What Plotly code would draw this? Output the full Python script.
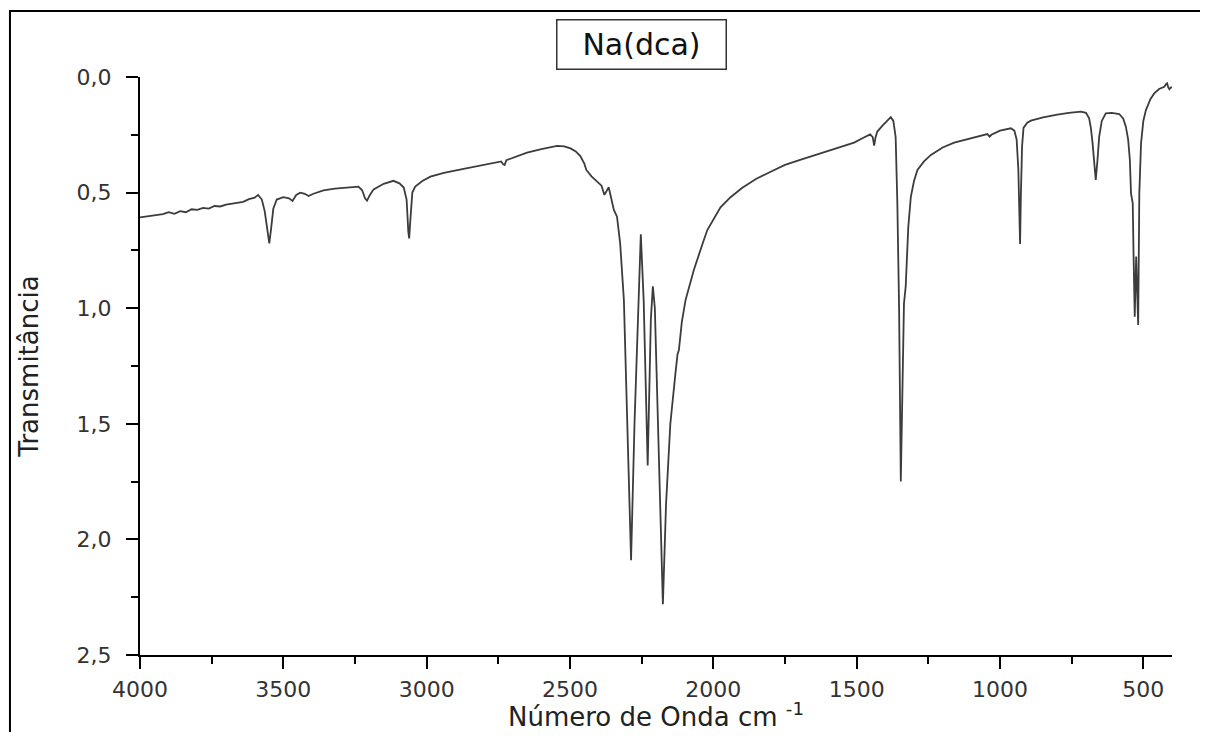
import plotly.graph_objects as go

# Wavenumber (cm^-1) and transmittance
wavenumber = [
    4000, 3960, 3920, 3900, 3880, 3860, 3840, 3820, 3800, 3780, 3760, 3740, 3720, 3700,
    3680, 3660, 3640, 3620, 3600, 3588, 3575, 3565, 3555, 3549, 3543, 3535, 3523, 3500,
    3480, 3468, 3455, 3441, 3425, 3412, 3395, 3360, 3320, 3280, 3238, 3225, 3215, 3208,
    3198, 3185, 3150, 3116, 3095, 3080, 3070, 3064, 3061, 3057, 3050, 3040, 3015, 2987,
    2940, 2880, 2820, 2766, 2740, 2733, 2728, 2722, 2714, 2690, 2650, 2600, 2545, 2520,
    2498, 2480, 2464, 2450, 2443, 2425, 2405, 2390, 2380, 2372, 2365, 2357, 2347, 2336,
    2325, 2312, 2300, 2287, 2275, 2260, 2253, 2243, 2229, 2218, 2211, 2204, 2190, 2176,
    2165, 2150, 2132, 2125, 2120, 2110, 2097, 2068, 2040, 2021, 1975, 1940, 1900, 1850,
    1800, 1750, 1700, 1650, 1626, 1580, 1540, 1509, 1480, 1453, 1444, 1439, 1434, 1428,
    1410, 1395, 1381, 1372, 1364, 1358, 1352, 1346, 1340, 1335, 1329, 1320, 1311, 1300,
    1288, 1265, 1241, 1200, 1160, 1102, 1060, 1044, 1036, 1030, 1000, 962, 950, 942,
    936, 933, 930, 927, 923, 918, 905, 892, 850, 800, 760, 718, 700, 689, 683, 677,
    671, 666, 660, 654, 645, 631, 610, 584, 570, 561, 553, 547, 543, 537, 534, 530,
    525, 521, 518, 514, 508, 500, 491, 475, 462, 445, 427, 420, 417, 413, 409, 404, 400,
]
transmittance = [
    0.607, 0.600, 0.593, 0.585, 0.592, 0.580, 0.585, 0.572, 0.575, 0.566, 0.569, 0.558, 0.560, 0.552,
    0.548, 0.541, 0.540, 0.528, 0.522, 0.510, 0.530, 0.580, 0.680, 0.720, 0.660, 0.570, 0.530, 0.520,
    0.525, 0.536, 0.510, 0.500, 0.505, 0.515, 0.505, 0.490, 0.483, 0.478, 0.474, 0.490, 0.525, 0.535,
    0.510, 0.486, 0.462, 0.449, 0.460, 0.478, 0.530, 0.670, 0.698, 0.620, 0.500, 0.474, 0.450, 0.431,
    0.415, 0.400, 0.385, 0.369, 0.365, 0.378, 0.381, 0.360, 0.356, 0.345, 0.327, 0.312, 0.298, 0.300,
    0.309, 0.322, 0.342, 0.375, 0.402, 0.430, 0.453, 0.470, 0.510, 0.490, 0.477, 0.520, 0.575, 0.604,
    0.720, 0.965, 1.500, 2.090, 1.500, 0.965, 0.680, 0.965, 1.680, 1.050, 0.905, 1.000, 1.700, 2.280,
    1.850, 1.500, 1.280, 1.200, 1.180, 1.060, 0.965, 0.835, 0.730, 0.662, 0.564, 0.520, 0.480, 0.440,
    0.410, 0.380, 0.360, 0.340, 0.330, 0.315, 0.297, 0.284, 0.265, 0.248, 0.260, 0.297, 0.260, 0.236,
    0.210, 0.190, 0.174, 0.190, 0.260, 0.550, 1.000, 1.750, 1.250, 0.980, 0.907, 0.650, 0.518, 0.450,
    0.402, 0.365, 0.337, 0.305, 0.284, 0.265, 0.252, 0.247, 0.258, 0.250, 0.232, 0.222, 0.232, 0.270,
    0.400, 0.550, 0.722, 0.500, 0.300, 0.220, 0.198, 0.189, 0.175, 0.163, 0.155, 0.150, 0.155, 0.179, 0.220, 0.287,
    0.380, 0.445, 0.360, 0.258, 0.190, 0.157, 0.155, 0.160, 0.180, 0.215, 0.270, 0.359, 0.503, 0.546, 0.777, 1.037,
    0.777, 0.900, 1.073, 0.503, 0.287, 0.190, 0.143, 0.095, 0.071, 0.052, 0.042, 0.030, 0.027, 0.045, 0.053, 0.045, 0.045,
]

x_tickvals = [4000, 3500, 3000, 2500, 2000, 1500, 1000, 500]
x_ticktext = ["4000", "3500", "3000", "2500", "2000", "1500", "1000", "500"]
y_tickvals = [0.0, 0.5, 1.0, 1.5, 2.0, 2.5]
y_ticktext = ["0,0", "0,5", "1,0", "1,5", "2,0", "2,5"]

title_text = "Na(dca)"
x_title = "Número de Onda cm <sup>-1</sup>"
y_title = "Transmitância"

FONT = "DejaVu Sans"

fig = go.Figure()
fig.add_trace(go.Scatter(
    x=wavenumber, y=transmittance, mode="lines",
    line=dict(color="#3c3c3c", width=1.8), showlegend=False,
))

fig.update_layout(
    width=1192, height=724, autosize=False,
    margin=dict(l=132, r=28, t=69, b=77, autoexpand=False),
    paper_bgcolor="white", plot_bgcolor="white",
    font=dict(family=FONT, color="#222222"),
    xaxis=dict(
        range=[4000, 400], showgrid=False, zeroline=False,
        showline=True, linecolor="black", linewidth=2,
        ticks="outside", ticklen=12, tickwidth=2, tickcolor="black",
        tickvals=x_tickvals, ticktext=x_ticktext,
        tickfont=dict(family=FONT, size=22, color="#333333"),
        ticklabelstandoff=2,
        minor=dict(ticks="outside", ticklen=7, tickwidth=2, tickcolor="black", dtick=250, tick0=0, showgrid=False),
        title=dict(text=x_title, font=dict(family=FONT, size=26, color="#222222"), standoff=4),
    ),
    yaxis=dict(
        range=[2.5, 0.0], showgrid=False, zeroline=False,
        showline=True, linecolor="black", linewidth=2,
        ticks="outside", ticklen=12, tickwidth=2, tickcolor="black",
        tickvals=y_tickvals, ticktext=y_ticktext,
        tickfont=dict(family=FONT, size=22, color="#333333"),
        ticklabelstandoff=10,
        minor=dict(ticks="outside", ticklen=7, tickwidth=2, tickcolor="black", dtick=0.25, tick0=0, showgrid=False),
        title=dict(text=y_title, font=dict(family=FONT, size=26, color="#222222"), standoff=30),
    ),
)

# outer frame of the figure (left and top edges visible)
fig.add_shape(type="rect", xref="paper", yref="paper",
              x0=-0.126, x1=1.2, y0=-0.3, y1=1.114,
              line=dict(color="black", width=2), fillcolor="rgba(0,0,0,0)", layer="above")

fig.add_annotation(
    text=title_text, xref="paper", yref="paper", x=0.4864, y=1.056,
    showarrow=False, xanchor="center", yanchor="middle",
    font=dict(family=FONT, size=30, color="#111111"),
    bordercolor="#333333", borderwidth=1.5, borderpad=2,
    width=164, height=44, bgcolor="white",
)

fig.write_html("out.html")
